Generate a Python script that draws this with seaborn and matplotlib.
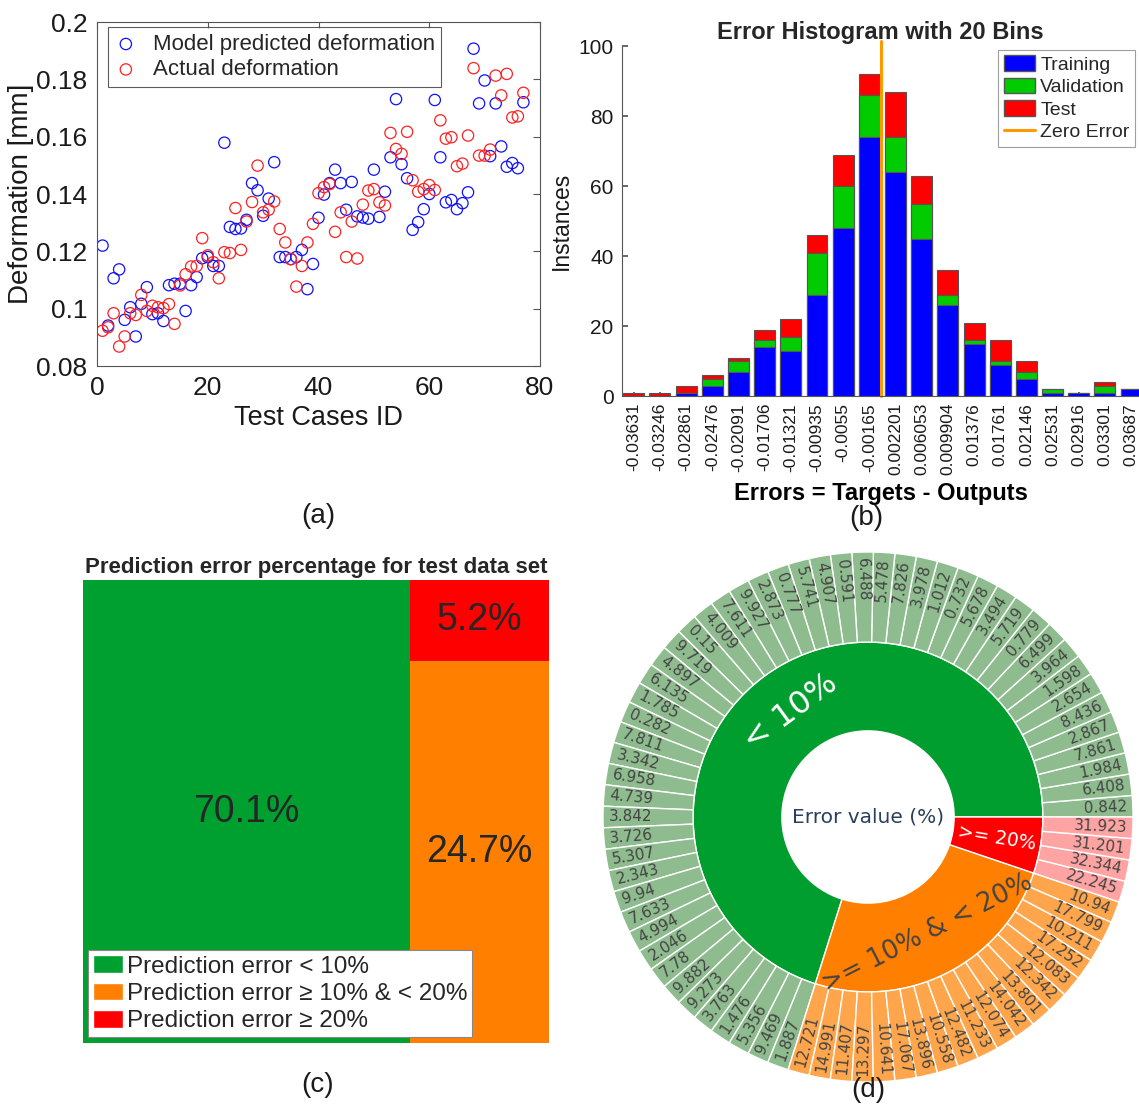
import numpy as np
import pandas as pd
import matplotlib
matplotlib.use("Agg")
import matplotlib.pyplot as plt
import seaborn as sns
from matplotlib.patches import Patch
from matplotlib.lines import Line2D
from matplotlib.ticker import FuncFormatter

# ------------------------------------------------------------------ data
case_ids = list(range(1, 78))
predicted = [0.1220, 0.0941, 0.1106, 0.1137, 0.0961, 0.1005, 0.0903, 0.1017, 0.1075, 0.0981,
             0.0984, 0.0957, 0.1082, 0.1087, 0.1087, 0.0992, 0.1082, 0.1110, 0.1176, 0.1180,
             0.1149, 0.1149, 0.1579, 0.1285, 0.1278, 0.1280, 0.1310, 0.1438, 0.1413, 0.1324,
             0.1384, 0.1511, 0.1180, 0.1180, 0.1173, 0.1180, 0.1205, 0.1068, 0.1156, 0.1317,
             0.1398, 0.1438, 0.1485, 0.1438, 0.1345, 0.1442, 0.1322, 0.1318, 0.1314, 0.1485,
             0.1320, 0.1408, 0.1528, 0.1731, 0.1504, 0.1455, 0.1275, 0.1302, 0.1347, 0.1400,
             0.1728, 0.1528, 0.1371, 0.1379, 0.1347, 0.1368, 0.1406, 0.1907, 0.1716, 0.1796,
             0.1532, 0.1716, 0.1566, 0.1495, 0.1508, 0.1490, 0.1720]
actual = [0.0923, 0.0935, 0.0984, 0.0868, 0.0903, 0.0984, 0.0978, 0.1048, 0.0992, 0.1010,
          0.1005, 0.1002, 0.1016, 0.0947, 0.1081, 0.1120, 0.1147, 0.1149, 0.1246, 0.1186,
          0.1162, 0.1106, 0.1197, 0.1194, 0.1351, 0.1205, 0.1304, 0.1372, 0.1499, 0.1336,
          0.1345, 0.1374, 0.1278, 0.1231, 0.1173, 0.1077, 0.1149, 0.1231, 0.1296, 0.1403,
          0.1424, 0.1435, 0.1268, 0.1336, 0.1180, 0.1304, 0.1175, 0.1363, 0.1412, 0.1417,
          0.1371, 0.1360, 0.1613, 0.1557, 0.1540, 0.1617, 0.1448, 0.1408, 0.1417, 0.1431,
          0.1414, 0.1657, 0.1593, 0.1598, 0.1497, 0.1506, 0.1604, 0.1839, 0.1534, 0.1534,
          0.1555, 0.1813, 0.1744, 0.1819, 0.1667, 0.1671, 0.1753]

bin_labels = ["-0.03631", "-0.03246", "-0.02861", "-0.02476", "-0.02091", "-0.01706",
              "-0.01321", "-0.00935", "-0.0055", "-0.00165", "0.002201", "0.006053",
              "0.009904", "0.01376", "0.01761", "0.02146", "0.02531", "0.02916",
              "0.03301", "0.03687"]
train_counts = [0, 0, 1, 3, 7, 14, 13, 29, 48, 74, 64, 45, 26, 15, 9, 5, 1, 1, 1, 2]
val_counts = [0, 0, 0, 2, 3, 2, 4, 12, 12, 12, 10, 10, 3, 1, 1, 2, 1, 0, 2, 0]
test_counts = [1, 1, 2, 1, 1, 3, 5, 5, 9, 6, 13, 8, 7, 5, 6, 3, 0, 0, 1, 0]

pct_values = [70.1, 24.7, 5.2]
pct_labels = ["70.1%", "24.7%", "5.2%"]
legend_c = ["Prediction error < 10%", "Prediction error \u2265 10% & < 20%",
            "Prediction error \u2265 20%"]

group_names = ["< 10%", ">= 10% & < 20%", ">= 20%"]
green_errors = [0.842, 6.408, 1.984, 7.861, 2.867, 8.436, 2.654, 1.598, 3.964, 6.499,
                0.779, 5.719, 3.494, 5.678, 0.732, 1.012, 3.978, 7.826, 5.478, 6.488,
                0.591, 4.907, 5.741, 0.777, 2.873, 9.927, 7.611, 4.009, 0.15, 9.719,
                4.897, 6.135, 1.785, 0.282, 7.811, 3.342, 6.958, 4.739, 3.842, 3.726,
                5.307, 2.343, 9.94, 7.633, 4.994, 2.046, 7.78, 9.882, 9.273, 3.763,
                1.476, 5.356, 9.469, 1.887]
orange_errors = [12.721, 14.991, 11.407, 13.297, 10.641, 17.067, 13.896, 10.558, 12.482,
                 11.233, 12.074, 14.042, 13.801, 12.342, 12.083, 17.252, 10.211, 17.799,
                 10.94]
red_errors = [22.245, 32.344, 31.201, 31.923]

# ------------------------------------------------------------------ style
sns.set_theme(style="white")
plt.rcParams["font.family"] = ["Liberation Sans", "DejaVu Sans"]

W, H = 1139, 1106
fig = plt.figure(figsize=(W / 100, H / 100), dpi=100)


def px_axes(l, t, r, b):
    return fig.add_axes([l / W, 1 - b / H, (r - l) / W, (b - t) / H])


AX_COL = "#555555"
TXT = "#1a1a1a"

# ------------------------------------------------------------------ (a)
ax_a = px_axes(97, 22, 540, 366)
sns.scatterplot(x=case_ids, y=predicted, ax=ax_a, color="none", edgecolor="#1010ff",
                s=66, linewidth=0.9, label="Model predicted deformation")
sns.scatterplot(x=case_ids, y=actual, ax=ax_a, color="none", edgecolor="#ff2020",
                s=66, linewidth=0.9, label="Actual deformation")
ax_a.set_xlim(0, 80)
ax_a.set_ylim(0.08, 0.2)
ax_a.set_xticks([0, 20, 40, 60, 80])
ax_a.set_yticks([0.08, 0.10, 0.12, 0.14, 0.16, 0.18, 0.20])
ax_a.yaxis.set_major_formatter(FuncFormatter(lambda v, p: f"{v:g}"))
ax_a.tick_params(direction="in", top=True, right=True, length=5, width=0.8,
                 labelsize=19, colors=AX_COL, labelcolor=TXT, pad=7)
for sp in ax_a.spines.values():
    sp.set_color(AX_COL)
    sp.set_linewidth(0.8)
ax_a.set_xlabel("Test Cases ID", fontsize=19.5, color=TXT, labelpad=4)
ax_a.set_ylabel("Deformation [mm]", fontsize=20, color=TXT)
ax_a.yaxis.set_label_coords(-0.143, 0.5)
leg = ax_a.legend(loc="upper left", bbox_to_anchor=(0.025, 0.985), borderaxespad=0,
                  fontsize=16, frameon=True, fancybox=False, handlelength=1.0,
                  handletextpad=0.7, borderpad=0.3, labelspacing=0.2, markerscale=1.0)
leg.get_frame().set_edgecolor("#333333")
leg.get_frame().set_linewidth(0.8)

# ------------------------------------------------------------------ (b)
ax_b = px_axes(622, 46, 1139, 396)
df_b = pd.DataFrame({"bin": bin_labels, "train": train_counts, "val": val_counts,
                     "test": test_counts})
df_b["tv"] = df_b["train"] + df_b["val"]
df_b["total"] = df_b["tv"] + df_b["test"]
EDGE = "#555555"
sns.barplot(data=df_b, x="bin", y="total", order=bin_labels, color="#ff0000",
            saturation=1, errorbar=None, edgecolor=EDGE, linewidth=0.8, width=0.8, ax=ax_b)
sns.barplot(data=df_b, x="bin", y="tv", order=bin_labels, color="#00cc00",
            saturation=1, errorbar=None, edgecolor=EDGE, linewidth=0.8, width=0.8, ax=ax_b)
sns.barplot(data=df_b, x="bin", y="train", order=bin_labels, color="#0000ff",
            saturation=1, errorbar=None, edgecolor=EDGE, linewidth=0.8, width=0.8, ax=ax_b)
centers = np.array([float(s) for s in bin_labels])
zero_pos = np.interp(0.0, centers, np.arange(len(centers)))
ax_b.axvline(zero_pos, color="#ff9900", lw=2.2, ymax=1.015, clip_on=False)
ax_b.set_xlim(-0.45, 19.3)
ax_b.set_ylim(0, 100)
ax_b.set_yticks([0, 20, 40, 60, 80, 100])
ax_b.set_xticks(range(len(bin_labels)))
ax_b.set_xticklabels(bin_labels, rotation=90, fontsize=12.5)
ax_b.tick_params(axis="y", labelsize=15, direction="in", length=4, colors=AX_COL,
                 labelcolor=TXT, left=True, pad=6)
ax_b.tick_params(axis="x", direction="in", length=3, colors=AX_COL, labelcolor=TXT,
                 bottom=True, pad=5)
for side in ["top", "right"]:
    ax_b.spines[side].set_visible(False)
for side in ["left", "bottom"]:
    ax_b.spines[side].set_color(AX_COL)
    ax_b.spines[side].set_linewidth(0.8)
ax_b.set_xlabel("Errors = Targets - Outputs", fontsize=17, fontweight="bold",
                color="black", labelpad=5)
ax_b.set_ylabel("Instances", fontsize=16.5, color=TXT, labelpad=4)
ax_b.set_title("Error Histogram with 20 Bins", fontsize=17, fontweight="bold", pad=5)
handles_b = [Patch(fc="#0000ff", ec=EDGE), Patch(fc="#00cc00", ec=EDGE),
             Patch(fc="#ff0000", ec=EDGE), Line2D([], [], color="#ff9900", lw=2.2)]
leg_b = ax_b.legend(handles_b, ["Training", "Validation", "Test", "Zero Error"],
                    loc="upper right", bbox_to_anchor=(0.993, 0.99), borderaxespad=0,
                    fontsize=14, fancybox=False, handlelength=1.6, handleheight=0.85,
                    handletextpad=0.25, borderpad=0.3, labelspacing=0.2)
leg_b.get_frame().set_edgecolor("#888888")
leg_b.get_frame().set_linewidth(0.8)

# ------------------------------------------------------------------ (c)
ax_c = px_axes(83, 580, 549, 1043)
C_GREEN, C_ORANGE, C_RED = "#00a030", "#ff8000", "#ff0000"
right_total = pct_values[1] + pct_values[2]
orange_h = pct_values[1] / right_total * 100
ax_c.bar([0], [100], width=[pct_values[0]], align="edge", color=C_GREEN, linewidth=0)
ax_c.bar([pct_values[0]], [orange_h], width=[right_total], align="edge",
         color=C_ORANGE, linewidth=0)
ax_c.bar([pct_values[0]], [100 - orange_h], bottom=[orange_h], width=[right_total],
         align="edge", color=C_RED, linewidth=0)
ax_c.set_xlim(0, 100)
ax_c.set_ylim(0, 100)
ax_c.axis("off")
ax_c.text(pct_values[0] / 2, 50, pct_labels[0], ha="center", va="center", fontsize=27)
ax_c.text(pct_values[0] + right_total / 2, orange_h / 2, pct_labels[1], ha="center",
          va="center", fontsize=27)
ax_c.text(pct_values[0] + right_total / 2, (orange_h + 100) / 2, pct_labels[2],
          ha="center", va="center", fontsize=27)
ax_c.set_title("Prediction error percentage for test data set", fontsize=16,
               fontweight="bold", pad=5)
handles_c = [Patch(fc=C_GREEN), Patch(fc=C_ORANGE), Patch(fc=C_RED)]
leg_c = ax_c.legend(handles_c, legend_c, loc="lower left", bbox_to_anchor=(0.011, 0.013),
                    borderaxespad=0, fontsize=17.5, fancybox=False, handlelength=1.25,
                    handleheight=0.75, handletextpad=0.15, borderpad=0.2,
                    labelspacing=0.2, framealpha=1)
leg_c.get_frame().set_edgecolor("#888888")
leg_c.get_frame().set_linewidth(0.8)

# ------------------------------------------------------------------ (d)
ax_d = px_axes(603, 552, 1133, 1082)
inner_counts = [len(green_errors), len(orange_errors), len(red_errors)]
inner_colors = ["#009e2f", "#ff7f00", "#ff0000"]
outer_colors = (["#8fbc8f"] * len(green_errors) + ["#ffa64d"] * len(orange_errors)
                + ["#ffa3a3"] * len(red_errors))
outer_vals = green_errors + orange_errors + red_errors
R_OUT, R_MID, R_HOLE = 1.0, 0.66, 0.325
ax_d.pie(inner_counts, radius=R_MID, startangle=0, counterclock=True, colors=inner_colors,
         wedgeprops=dict(width=R_MID - R_HOLE, edgecolor="white", linewidth=1.0))
ax_d.pie([1] * len(outer_vals), radius=R_OUT, startangle=0, counterclock=True,
         colors=outer_colors,
         wedgeprops=dict(width=R_OUT - R_MID, edgecolor="white", linewidth=1.0))
ax_d.set_xlim(-1, 1)
ax_d.set_ylim(-1, 1)
ax_d.set_aspect("equal")
ax_d.axis("off")

n_out = len(outer_vals)
for i, v in enumerate(outer_vals):
    th = (i + 0.5) * 360.0 / n_out
    rad = np.deg2rad(th)
    r = 0.978
    x, y = r * np.cos(rad), r * np.sin(rad)
    if np.cos(rad) >= 0:
        rot, ha = th, "right"
    else:
        rot, ha = th - 180, "left"
    ax_d.text(x, y, f"{v:g}", rotation=rot, rotation_mode="anchor", ha=ha, va="center",
              fontsize=11, color="#444444", family="DejaVu Sans")

inner_modes = ["tangential", "tangential", "radial"]
inner_txtcol = ["white", "#444444", "white"]
inner_sizes = [23, 18.5, 13.5]
start = 0.0
tot = sum(inner_counts)
for name, cnt, mode, col, fs in zip(group_names, inner_counts, inner_modes,
                                    inner_txtcol, inner_sizes):
    span = cnt / tot * 360
    th = start + span / 2
    start += span
    rad = np.deg2rad(th)
    r = (R_MID + R_HOLE) / 2
    x, y = r * np.cos(rad), r * np.sin(rad)
    if mode == "tangential":
        rot = th - 90 if np.sin(rad) >= 0 else th + 90
    else:
        rot = th if np.cos(rad) >= 0 else th - 180
    ax_d.text(x, y, name, rotation=rot, rotation_mode="anchor", ha="center", va="center",
              fontsize=fs, color=col, family="DejaVu Sans")
ax_d.text(0, 0, "Error value (%)", ha="center", va="center", fontsize=14.5,
          color="#2a3f5f", family="DejaVu Sans")

# ------------------------------------------------------------------ panel tags
for tag, (px, py) in {"(a)": (318, 516), "(b)": (866, 518), "(c)": (318, 1085),
                      "(d)": (868, 1090)}.items():
    fig.text(px / W, 1 - py / H, tag, ha="center", va="center", fontsize=20, color=TXT)

fig.savefig("out.png", dpi=100)
